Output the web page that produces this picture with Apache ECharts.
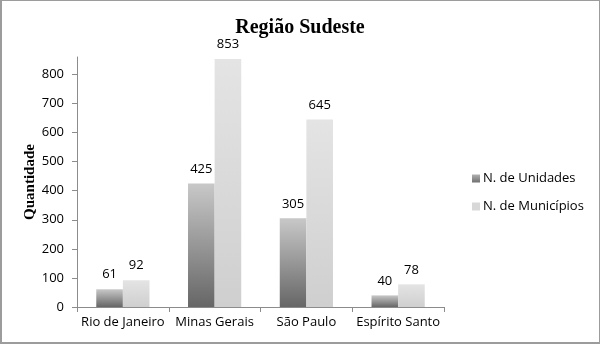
<!DOCTYPE html>
<html>
<head>
<meta charset="utf-8">
<script src="https://cdn.jsdelivr.net/npm/echarts@6/dist/echarts.min.js"></script>
<style>
html,body{margin:0;padding:0;background:#fff;}
#chart{position:absolute;left:0;top:0;width:600px;height:344px;}
#frame{position:absolute;left:0;top:0;width:600px;height:344px;box-sizing:border-box;border:1px solid #9c9c9c;border-left-width:2px;border-bottom-width:2px;pointer-events:none;}
</style>
</head>
<body>
<div id="chart"></div>
<div id="frame"></div>
<script>
const categories = ['Rio de Janeiro', 'Minas Gerais', 'São Paulo', 'Espírito Santo'];
const unidades = [61, 425, 305, 40];
const municipios = [92, 853, 645, 78];
const seriesNames = ['N. de Unidades', 'N. de Municípios'];
const titleText = 'Região Sudeste';
const yAxisName = 'Quantidade';

const sansFont = '"Open Sans", "Noto Sans", sans-serif';
const serifFont = '"Liberation Serif", "DejaVu Serif", serif';

const chart = echarts.init(document.getElementById('chart'));
const darkGrad = new echarts.graphic.LinearGradient(0, 0, 0, 1, [
  {offset: 0, color: '#c8c8c8'},
  {offset: 1, color: '#666666'}
]);
const lightGrad = new echarts.graphic.LinearGradient(0, 0, 0, 1, [
  {offset: 0, color: '#e4e4e4'},
  {offset: 1, color: '#cfcfcf'}
]);
const legendDark = new echarts.graphic.LinearGradient(0, 0, 0, 1, [
  {offset: 0, color: '#b0b0b0'},
  {offset: 1, color: '#707070'}
]);
chart.setOption({
  animation: false,
  title: {
    text: titleText,
    left: 'center',
    top: 13,
    textStyle: {fontFamily: serifFont, fontWeight: 'bold', fontSize: 20, color: '#000'}
  },
  legend: {
    orient: 'vertical',
    left: 467,
    top: 167,
    itemWidth: 8,
    itemHeight: 8,
    itemGap: 15,
    icon: 'rect',
    textStyle: {fontFamily: sansFont, fontSize: 13, color: '#000', padding: [0, 0, 0, -2]},
    data: [
      {name: seriesNames[0], itemStyle: {color: legendDark}},
      {name: seriesNames[1], itemStyle: {color: '#d8d8d8'}}
    ]
  },
  grid: {left: 77, right: 156, top: 57, bottom: 37, containLabel: false},
  xAxis: {
    type: 'category',
    data: categories,
    axisLine: {lineStyle: {color: '#8c8c8c', width: 1}},
    axisTick: {show: true, length: 5, inside: false, lineStyle: {color: '#8c8c8c'}},
    axisLabel: {fontFamily: sansFont, fontSize: 13, color: '#000', margin: 9, interval: 0}
  },
  yAxis: {
    type: 'value',
    min: 0,
    max: 860,
    interval: 100,
    name: yAxisName,
    nameLocation: 'middle',
    nameGap: 39,
    nameMoveOverlap: false,
    nameRotate: 90,
    nameTextStyle: {fontFamily: serifFont, fontWeight: 'bold', fontSize: 15, color: '#000'},
    axisLine: {show: true, lineStyle: {color: '#8c8c8c', width: 1}},
    axisTick: {show: true, length: 5, lineStyle: {color: '#8c8c8c'}},
    splitLine: {show: false},
    axisLabel: {fontFamily: sansFont, fontSize: 13, color: '#000', margin: 13, showMaxLabel: false}
  },
  series: [
    {
      name: seriesNames[0],
      type: 'bar',
      data: unidades,
      barGap: '0%',
      barCategoryGap: '42%',
      itemStyle: {color: darkGrad},
      label: {show: true, position: 'top', distance: 8, fontFamily: sansFont, fontSize: 13, color: '#000'}
    },
    {
      name: seriesNames[1],
      type: 'bar',
      data: municipios,
      itemStyle: {color: lightGrad},
      label: {show: true, position: 'top', distance: 8, fontFamily: sansFont, fontSize: 13, color: '#000'}
    }
  ]
});
</script>
</body>
</html>
